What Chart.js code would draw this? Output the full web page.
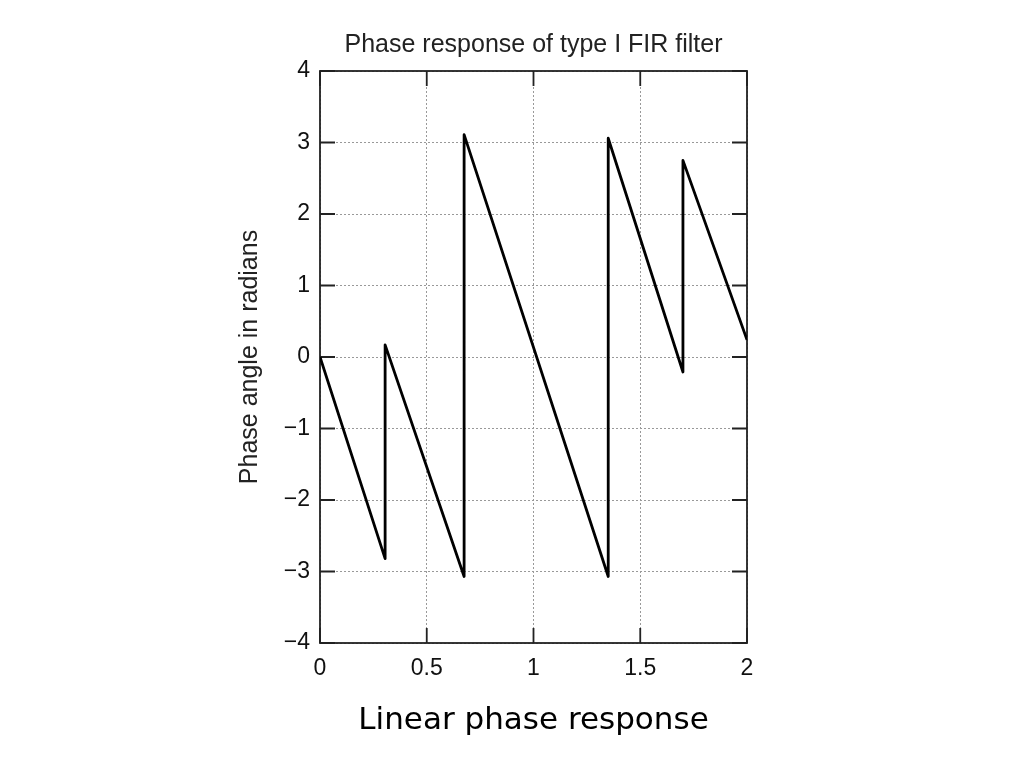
<!DOCTYPE html>
<html>
<head>
<meta charset="utf-8">
<script src="https://cdn.jsdelivr.net/npm/chart.js@4/dist/chart.umd.min.js"></script>
<style>
  html, body { margin: 0; padding: 0; background: #fff; }
  #chart { display: block; }
</style>
</head>
<body>
<canvas id="chart" width="1024" height="768"></canvas>
<script>
// normalised frequency (x) and phase in radians (y)
const freqX = [0, 0.305, 0.305, 0.675, 0.675, 1.35, 1.35, 1.70, 1.70, 2.0];
const phaseY = [0, -2.82, 0.17, -3.07, 3.11, -3.07, 3.06, -0.21, 2.75, 0.24];

const xTicks = [0, 0.5, 1, 1.5, 2];
const yTicks = [-4, -3, -2, -1, 0, 1, 2, 3, 4];

const chartTitle = "Phase response of type I FIR filter";
const yTitle = "Phase angle in radians";
const caption = "Linear phase response";

const points = freqX.map((x, i) => ({ x: x, y: phaseY[i] }));

const labelFont = { family: "'Liberation Sans', Arial, sans-serif", size: 23 };

// solid box around the plot plus the short inward tick marks
const framePlugin = {
  id: "frame",
  beforeDatasetsDraw(chart) {
    const { ctx, chartArea: a, scales } = chart;
    const len = 15;
    ctx.save();
    ctx.strokeStyle = "#222";
    ctx.lineWidth = 1.8;
    ctx.beginPath();
    xTicks.forEach(v => {
      const px = scales.x.getPixelForValue(v);
      ctx.moveTo(px, a.bottom); ctx.lineTo(px, a.bottom - len);
      ctx.moveTo(px, a.top); ctx.lineTo(px, a.top + len);
    });
    yTicks.forEach(v => {
      const py = scales.y.getPixelForValue(v);
      ctx.moveTo(a.left, py); ctx.lineTo(a.left + len, py);
      ctx.moveTo(a.right, py); ctx.lineTo(a.right - len, py);
    });
    ctx.stroke();
    ctx.strokeRect(a.left, a.top, a.right - a.left, a.bottom - a.top);
    ctx.restore();
  }
};

new Chart(document.getElementById("chart"), {
  type: "scatter",
  data: {
    datasets: [{
      data: points,
      showLine: true,
      borderColor: "#000",
      borderWidth: 2.8,
      borderJoinStyle: "round",
      pointRadius: 0,
      tension: 0,
      fill: false
    }]
  },
  options: {
    responsive: false,
    animation: false,
    layout: { padding: { top: 30, left: 235, right: 277, bottom: 28 } },
    plugins: {
      legend: { display: false },
      tooltip: { enabled: false },
      title: {
        display: true,
        fullSize: false,
        text: chartTitle,
        color: "#222",
        font: { family: "'Liberation Sans', Arial, sans-serif", size: 25, weight: "normal" },
        padding: { top: 0, bottom: 11 }
      }
    },
    scales: {
      x: {
        type: "linear",
        min: 0,
        max: 2,
        afterBuildTicks: s => { s.ticks = xTicks.map(v => ({ value: v })); },
        afterFit: s => { s.height = 97; },
        ticks: {
          color: "#111",
          font: labelFont,
          padding: 12,
          maxRotation: 0,
          callback: v => String(v)
        },
        grid: { color: "#999", lineWidth: 1, drawTicks: false },
        border: { display: false, dash: [2, 2] },
        title: {
          display: true,
          text: caption,
          color: "#000",
          font: { family: "'Comic Sans MS', 'DejaVu Sans', sans-serif", size: 31 },
          padding: 0
        }
      },
      y: {
        type: "linear",
        min: -4,
        max: 4,
        afterBuildTicks: s => { s.ticks = yTicks.map(v => ({ value: v })); },
        afterFit: s => { s.width = 85; },
        ticks: {
          color: "#111",
          font: labelFont,
          padding: 10,
          callback: v => String(v).replace("-", "\u2212")
        },
        grid: { color: "#999", lineWidth: 1, drawTicks: false },
        border: { display: false, dash: [2, 2] },
        title: {
          display: true,
          text: yTitle,
          color: "#222",
          font: { family: "'Liberation Sans', Arial, sans-serif", size: 25 },
          padding: 0
        }
      }
    }
  },
  plugins: [framePlugin]
});
</script>
</body>
</html>
